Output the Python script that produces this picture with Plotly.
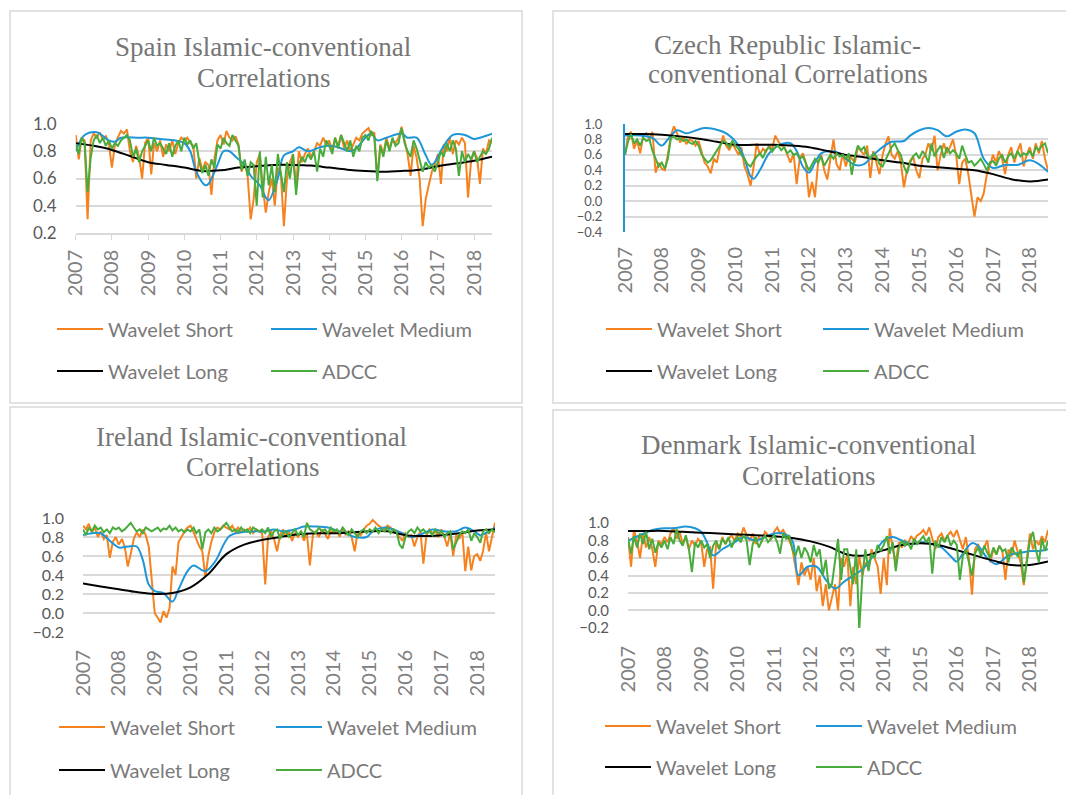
import pandas as pd
import plotly.graph_objects as go

W, H = 1066, 795

# ---------------- data ----------------
months = pd.date_range("2007-01-01", periods=139, freq="MS")
half_years = pd.date_range("2007-01-01", periods=24, freq="6MS")

series_names = ["Wavelet Short", "Wavelet Medium", "Wavelet Long", "ADCC"]

# Spain
spain_short = [
    0.92, 0.74, 0.90, 0.88, 0.30, 0.88, 0.93, 0.90, 0.94, 0.88, 0.91, 0.86,
    0.68, 0.85, 0.90, 0.95, 0.93, 0.96, 0.80, 0.72, 0.84, 0.76, 0.60, 0.86,
    0.90, 0.63, 0.86, 0.80, 0.88, 0.76, 0.85, 0.80, 0.88, 0.78, 0.86, 0.90,
    0.88, 0.90, 0.86, 0.84, 0.60, 0.75, 0.66, 0.72, 0.70, 0.48, 0.75, 0.88,
    0.92, 0.85, 0.95, 0.90, 0.88, 0.91, 0.85, 0.65, 0.72, 0.62, 0.30, 0.45,
    0.72, 0.78, 0.55, 0.35, 0.50, 0.60, 0.40, 0.68, 0.62, 0.25, 0.60, 0.72,
    0.78, 0.55, 0.80, 0.72, 0.78, 0.82, 0.76, 0.80, 0.86, 0.84, 0.90, 0.85,
    0.88, 0.80, 0.90, 0.84, 0.92, 0.82, 0.88, 0.80, 0.85, 0.90, 0.88, 0.93,
    0.95, 0.97, 0.92, 0.94, 0.60, 0.85, 0.78, 0.90, 0.82, 0.88, 0.86, 0.90,
    0.98, 0.88, 0.78, 0.62, 0.84, 0.75, 0.60, 0.25, 0.45, 0.55, 0.65, 0.70,
    0.78, 0.56, 0.85, 0.80, 0.90, 0.78, 0.88, 0.85, 0.90, 0.86, 0.46, 0.72,
    0.80, 0.75, 0.56, 0.82, 0.78, 0.88, 0.86,
]
spain_adcc = [
    0.85, 0.78, 0.90, 0.86, 0.50, 0.75, 0.88, 0.92, 0.86, 0.90, 0.84, 0.88,
    0.82, 0.86, 0.84, 0.88, 0.90, 0.92, 0.88, 0.76, 0.82, 0.72, 0.80, 0.84,
    0.88, 0.80, 0.90, 0.84, 0.86, 0.82, 0.78, 0.86, 0.76, 0.84, 0.88, 0.80,
    0.90, 0.85, 0.88, 0.82, 0.86, 0.72, 0.64, 0.70, 0.62, 0.74, 0.68, 0.85,
    0.82, 0.90, 0.86, 0.84, 0.92, 0.88, 0.84, 0.66, 0.74, 0.62, 0.72, 0.70,
    0.40, 0.80, 0.46, 0.76, 0.55, 0.70, 0.50, 0.78, 0.62, 0.50, 0.72, 0.60,
    0.78, 0.48, 0.70, 0.76, 0.72, 0.78, 0.74, 0.80, 0.65, 0.82, 0.76, 0.88,
    0.84, 0.78, 0.90, 0.82, 0.92, 0.86, 0.80, 0.88, 0.76, 0.84, 0.80, 0.90,
    0.92, 0.88, 0.95, 0.90, 0.58, 0.84, 0.76, 0.88, 0.80, 0.90, 0.84, 0.86,
    0.97, 0.86, 0.80, 0.76, 0.88, 0.82, 0.74, 0.65, 0.72, 0.68, 0.70, 0.65,
    0.72, 0.80, 0.76, 0.86, 0.80, 0.88, 0.82, 0.62, 0.80, 0.72, 0.78, 0.74,
    0.80, 0.72, 0.76, 0.80, 0.78, 0.82, 0.90,
]
spain_medium_dates = [
    "2007-01", "2007-04", "2007-08", "2007-12", "2008-02", "2008-04", "2008-10",
    "2009-01", "2009-05", "2009-10", "2010-01", "2010-03", "2010-05", "2010-08",
    "2010-09", "2010-12", "2011-02", "2011-04", "2011-06", "2011-09", "2011-11",
    "2012-02", "2012-04", "2012-05", "2012-08", "2012-10", "2013-01", "2013-03",
    "2013-06", "2013-10", "2014-01", "2014-04", "2014-08", "2014-10", "2015-01",
    "2015-03", "2015-05", "2015-08", "2016-01", "2016-03", "2016-06", "2016-09",
    "2016-11", "2017-03", "2017-06", "2017-10", "2018-01", "2018-03", "2018-07",
]
spain_medium = [
    0.80, 0.92, 0.94, 0.88, 0.87, 0.90, 0.90, 0.90, 0.89, 0.88, 0.86, 0.80,
    0.65, 0.55, 0.56, 0.70, 0.80, 0.80, 0.76, 0.70, 0.62, 0.55, 0.46, 0.44,
    0.60, 0.77, 0.80, 0.83, 0.80, 0.83, 0.84, 0.83, 0.80, 0.82, 0.90, 0.93,
    0.88, 0.90, 0.93, 0.90, 0.90, 0.77, 0.70, 0.84, 0.92, 0.92, 0.89, 0.90,
    0.93,
]
spain_long = [
    0.86, 0.84, 0.81, 0.765, 0.72, 0.70, 0.68, 0.655, 0.66, 0.68, 0.69, 0.70,
    0.70, 0.695, 0.68, 0.665, 0.655, 0.65, 0.655, 0.665, 0.69, 0.71, 0.73, 0.76,
]

# Czech Republic
czech_short = [
    0.60, 0.85, 0.90, 0.68, 0.78, 0.62, 0.85, 0.88, 0.80, 0.90, 0.37, 0.50,
    0.42, 0.40, 0.60, 0.85, 0.97, 0.88, 0.76, 0.84, 0.74, 0.80, 0.78, 0.72,
    0.78, 0.62, 0.50, 0.45, 0.36, 0.55, 0.50, 0.70, 0.85, 0.72, 0.66, 0.75,
    0.68, 0.60, 0.70, 0.45, 0.35, 0.20, 0.45, 0.75, 0.60, 0.68, 0.64, 0.72,
    0.68, 0.85, 0.78, 0.72, 0.70, 0.60, 0.50, 0.62, 0.22, 0.55, 0.62, 0.50,
    0.05, 0.25, 0.05, 0.50, 0.60, 0.40, 0.28, 0.55, 0.80, 0.48, 0.40, 0.62,
    0.45, 0.60, 0.55, 0.50, 0.70, 0.65, 0.60, 0.72, 0.30, 0.65, 0.50, 0.35,
    0.60, 0.75, 0.84, 0.60, 0.55, 0.65, 0.50, 0.18, 0.40, 0.52, 0.58, 0.40,
    0.30, 0.55, 0.60, 0.75, 0.65, 0.85, 0.40, 0.60, 0.75, 0.62, 0.70, 0.80,
    0.60, 0.22, 0.50, 0.55, 0.35, 0.10, -0.20, 0.05, 0.00, 0.10, 0.35, 0.45,
    0.60, 0.50, 0.65, 0.55, 0.35, 0.60, 0.70, 0.50, 0.65, 0.75, 0.45, 0.60,
    0.70, 0.55, 0.75, 0.62, 0.78, 0.55, 0.40,
]
czech_adcc = [
    0.60, 0.78, 0.87, 0.75, 0.80, 0.72, 0.82, 0.78, 0.80, 0.65, 0.55, 0.45,
    0.50, 0.42, 0.55, 0.82, 0.84, 0.80, 0.82, 0.78, 0.80, 0.76, 0.74, 0.78,
    0.72, 0.60, 0.55, 0.50, 0.53, 0.60, 0.66, 0.72, 0.78, 0.76, 0.70, 0.78,
    0.72, 0.68, 0.60, 0.55, 0.48, 0.45, 0.52, 0.58, 0.62, 0.56, 0.66, 0.70,
    0.64, 0.70, 0.72, 0.66, 0.70, 0.62, 0.66, 0.60, 0.62, 0.55, 0.58, 0.50,
    0.40, 0.48, 0.55, 0.50, 0.58, 0.46, 0.52, 0.60, 0.55, 0.62, 0.58, 0.60,
    0.55, 0.62, 0.34, 0.58, 0.72, 0.66, 0.70, 0.60, 0.55, 0.62, 0.58, 0.48,
    0.45, 0.55, 0.62, 0.70, 0.75, 0.66, 0.60, 0.45, 0.36, 0.50, 0.58, 0.62,
    0.55, 0.65, 0.60, 0.50, 0.75, 0.58, 0.66, 0.72, 0.56, 0.70, 0.62, 0.66,
    0.62, 0.55, 0.72, 0.60, 0.50, 0.52, 0.46, 0.50, 0.55, 0.48, 0.40, 0.50,
    0.52, 0.46, 0.55, 0.60, 0.50, 0.58, 0.62, 0.55, 0.65, 0.58, 0.62, 0.60,
    0.65, 0.58, 0.70, 0.66, 0.72, 0.75, 0.62,
]
czech_medium_dates = [
    "2007-01", "2007-06", "2007-10", "2008-01", "2008-03", "2008-06", "2008-09",
    "2009-01", "2009-03", "2009-09", "2009-12", "2010-02", "2010-04", "2010-06",
    "2010-07", "2010-09", "2010-12", "2011-03", "2011-07", "2011-09", "2011-11",
    "2012-01", "2012-03", "2012-05", "2012-08", "2012-11", "2013-01", "2013-04",
    "2013-07", "2013-10", "2014-01", "2014-04", "2014-08", "2014-10", "2015-01",
    "2015-04", "2015-07", "2015-10", "2016-01", "2016-04", "2016-07", "2016-10",
    "2017-01", "2017-05", "2017-09", "2018-01", "2018-04", "2018-07",
]
czech_medium = [
    0.85, 0.85, 0.82, 0.72, 0.80, 0.92, 0.88, 0.93, 0.95, 0.90, 0.82, 0.72,
    0.55, 0.32, 0.29, 0.40, 0.62, 0.72, 0.75, 0.65, 0.45, 0.37, 0.50, 0.62,
    0.65, 0.62, 0.55, 0.47, 0.48, 0.60, 0.70, 0.77, 0.78, 0.85, 0.92, 0.95,
    0.92, 0.84, 0.90, 0.93, 0.88, 0.55, 0.43, 0.47, 0.47, 0.53, 0.48, 0.38,
]
czech_long = [
    0.87, 0.87, 0.86, 0.84, 0.81, 0.77, 0.73, 0.73, 0.73, 0.72, 0.70, 0.65,
    0.60, 0.57, 0.53, 0.50, 0.46, 0.44, 0.42, 0.40, 0.35, 0.285, 0.255, 0.28,
]

# Ireland
ireland_short = [
    0.92, 0.88, 0.94, 0.85, 0.90, 0.80, 0.86, 0.78, 0.82, 0.58, 0.75, 0.80,
    0.72, 0.78, 0.70, 0.49, 0.62, 0.78, 0.85, 0.80, 0.88, 0.82, 0.70, 0.35,
    0.00, -0.05, -0.10, 0.02, -0.05, 0.05, 0.49, 0.40, 0.75, 0.80, 0.86, 0.90,
    0.92, 0.85, 0.78, 0.70, 0.65, 0.38, 0.60, 0.75, 0.85, 0.90, 0.88, 0.92,
    0.90, 0.88, 0.92, 0.86, 0.90, 0.85, 0.88, 0.86, 0.90, 0.84, 0.88, 0.86,
    0.84, 0.30, 0.80, 0.86, 0.78, 0.65, 0.82, 0.88, 0.80, 0.86, 0.76, 0.84,
    0.80, 0.86, 0.76, 0.84, 0.50, 0.82, 0.86, 0.80, 0.88, 0.84, 0.78, 0.86,
    0.84, 0.88, 0.80, 0.90, 0.82, 0.86, 0.80, 0.65, 0.86, 0.82, 0.88, 0.92,
    0.94, 0.98, 0.95, 0.92, 0.90, 0.88, 0.92, 0.90, 0.86, 0.84, 0.80, 0.76,
    0.84, 0.80, 0.82, 0.70, 0.80, 0.86, 0.52, 0.82, 0.88, 0.84, 0.86, 0.80,
    0.88, 0.80, 0.70, 0.84, 0.60, 0.82, 0.78, 0.86, 0.44, 0.70, 0.45, 0.60,
    0.62, 0.55, 0.65, 0.85, 0.65, 0.82, 0.95,
]
ireland_adcc = [
    0.88, 0.82, 0.90, 0.86, 0.92, 0.88, 0.90, 0.85, 0.88, 0.84, 0.90, 0.88,
    0.90, 0.86, 0.88, 0.92, 0.95, 0.90, 0.86, 0.88, 0.84, 0.90, 0.88, 0.86,
    0.88, 0.90, 0.86, 0.89, 0.88, 0.92, 0.87, 0.90, 0.86, 0.88, 0.85, 0.88,
    0.86, 0.90, 0.84, 0.88, 0.67, 0.85, 0.88, 0.84, 0.90, 0.86, 0.88, 0.92,
    0.95, 0.90, 0.86, 0.88, 0.85, 0.90, 0.86, 0.88, 0.84, 0.90, 0.88, 0.86,
    0.88, 0.84, 0.90, 0.80, 0.86, 0.88, 0.78, 0.84, 0.86, 0.80, 0.84, 0.88,
    0.82, 0.86, 0.80, 0.95, 0.88, 0.86, 0.84, 0.90, 0.86, 0.88, 0.84, 0.90,
    0.86, 0.88, 0.84, 0.90, 0.86, 0.82, 0.88, 0.84, 0.80, 0.86, 0.88, 0.84,
    0.88, 0.86, 0.90, 0.84, 0.88, 0.86, 0.90, 0.84, 0.88, 0.86, 0.72, 0.68,
    0.80, 0.86, 0.88, 0.84, 0.90, 0.86, 0.88, 0.84, 0.86, 0.82, 0.88, 0.84,
    0.86, 0.80, 0.84, 0.86, 0.67, 0.74, 0.82, 0.86, 0.84, 0.88, 0.76, 0.84,
    0.80, 0.74, 0.86, 0.88, 0.84, 0.88, 0.85,
]
ireland_medium_dates = [
    "2007-01", "2007-04", "2007-07", "2007-10", "2008-01", "2008-04", "2008-07",
    "2008-09", "2008-11", "2009-01", "2009-04", "2009-07", "2009-09", "2009-12",
    "2010-02", "2010-06", "2010-09", "2011-02", "2011-06", "2011-11", "2012-02",
    "2012-05", "2012-08", "2012-12", "2013-03", "2013-07", "2013-11", "2014-01",
    "2014-05", "2014-08", "2014-12", "2015-02", "2015-06", "2015-09", "2015-12",
    "2016-03", "2016-07", "2016-10", "2017-02", "2017-06", "2017-09", "2017-12",
    "2018-02", "2018-05", "2018-07",
]
ireland_medium = [
    0.82, 0.84, 0.84, 0.76, 0.69, 0.70, 0.70, 0.56, 0.30, 0.23, 0.21, 0.12,
    0.25, 0.44, 0.50, 0.44, 0.53, 0.81, 0.85, 0.86, 0.86, 0.88, 0.86, 0.88,
    0.91, 0.91, 0.90, 0.88, 0.84, 0.80, 0.80, 0.86, 0.90, 0.88, 0.84, 0.80,
    0.84, 0.88, 0.86, 0.86, 0.90, 0.86, 0.82, 0.86, 0.90,
]
ireland_long = [
    0.31, 0.28, 0.25, 0.22, 0.20, 0.21, 0.27, 0.41, 0.62, 0.72, 0.77, 0.80,
    0.83, 0.84, 0.84, 0.85, 0.86, 0.86, 0.82, 0.81, 0.82, 0.84, 0.87, 0.88,
]

# Denmark
denmark_short = [
    0.84, 0.50, 0.92, 0.80, 0.60, 0.88, 0.72, 0.84, 0.70, 0.50, 0.80, 0.76,
    0.84, 0.78, 0.88, 0.95, 0.82, 0.90, 0.76, 0.84, 0.70, 0.80, 0.74, 0.82,
    0.78, 0.50, 0.70, 0.72, 0.25, 0.78, 0.70, 0.84, 0.76, 0.82, 0.86, 0.80,
    0.88, 0.84, 0.95, 0.86, 0.80, 0.88, 0.76, 0.84, 0.80, 0.90, 0.86, 0.82,
    0.90, 0.95, 0.88, 0.92, 0.86, 0.80, 0.72, 0.50, 0.29, 0.55, 0.40, 0.50,
    0.35, 0.60, 0.22, 0.40, 0.05, 0.30, 0.00, 0.15, 0.30, 0.00, 0.60, 0.50,
    0.65, 0.05, 0.50, 0.30, 0.62, 0.40, 0.55, 0.48, 0.70, 0.60, 0.50, 0.19,
    0.60, 0.29, 0.94, 0.70, 0.55, 0.78, 0.72, 0.80, 0.76, 0.85, 0.80, 0.86,
    0.88, 0.92, 0.86, 0.95, 0.82, 0.70, 0.84, 0.88, 0.80, 0.86, 0.90, 0.84,
    0.92, 0.80, 0.70, 0.84, 0.60, 0.18, 0.70, 0.76, 0.65, 0.72, 0.80, 0.55,
    0.70, 0.64, 0.74, 0.68, 0.35, 0.70, 0.62, 0.80, 0.66, 0.55, 0.29, 0.60,
    0.88, 0.70, 0.80, 0.75, 0.85, 0.78, 0.92,
]
denmark_adcc = [
    0.82, 0.65, 0.85, 0.72, 0.88, 0.76, 0.90, 0.70, 0.82, 0.66, 0.78, 0.72,
    0.80, 0.70, 0.84, 0.76, 0.93, 0.80, 0.74, 0.86, 0.70, 0.44, 0.78, 0.72,
    0.80, 0.72, 0.76, 0.60, 0.74, 0.80, 0.70, 0.82, 0.76, 0.84, 0.72, 0.80,
    0.84, 0.78, 0.86, 0.80, 0.52, 0.76, 0.84, 0.72, 0.80, 0.86, 0.78, 0.82,
    0.86, 0.78, 0.65, 0.88, 0.82, 0.86, 0.70, 0.62, 0.74, 0.60, 0.72, 0.66,
    0.55, 0.75, 0.62, 0.70, 0.40, 0.58, 0.25, 0.30, 0.55, 0.82, 0.35, 0.70,
    0.70, 0.50, 0.30, 0.70, -0.22, 0.40, 0.70, 0.45, 0.65, 0.60, 0.75, 0.68,
    0.75, 0.85, 0.65, 0.78, 0.45, 0.72, 0.80, 0.74, 0.78, 0.70, 0.82, 0.76,
    0.80, 0.85, 0.78, 0.84, 0.42, 0.80, 0.72, 0.84, 0.78, 0.86, 0.74, 0.80,
    0.75, 0.35, 0.62, 0.70, 0.55, 0.40, 0.65, 0.72, 0.62, 0.74, 0.66, 0.60,
    0.72, 0.64, 0.74, 0.68, 0.70, 0.55, 0.72, 0.66, 0.62, 0.70, 0.32, 0.58,
    0.80, 0.90, 0.70, 0.55, 0.82, 0.68, 0.80,
]
denmark_medium_dates = [
    "2007-01", "2007-05", "2007-09", "2008-01", "2008-04", "2008-08", "2008-11",
    "2009-01", "2009-03", "2009-05", "2009-08", "2009-12", "2010-03", "2010-07",
    "2010-10", "2011-01", "2011-04", "2011-07", "2011-09", "2011-12", "2012-03",
    "2012-06", "2012-09", "2012-12", "2013-03", "2013-06", "2013-09", "2014-01",
    "2014-04", "2014-07", "2014-10", "2015-01", "2015-04", "2015-08", "2015-11",
    "2016-01", "2016-03", "2016-06", "2016-08", "2016-11", "2017-02", "2017-06",
    "2017-10", "2018-01", "2018-04", "2018-07",
]
denmark_medium = [
    0.80, 0.86, 0.92, 0.94, 0.94, 0.96, 0.94, 0.90, 0.78, 0.63, 0.70, 0.78,
    0.84, 0.80, 0.84, 0.88, 0.88, 0.80, 0.40, 0.50, 0.50, 0.35, 0.25, 0.33,
    0.40, 0.47, 0.60, 0.80, 0.84, 0.80, 0.76, 0.78, 0.77, 0.72, 0.62, 0.56,
    0.65, 0.77, 0.74, 0.60, 0.53, 0.63, 0.66, 0.68, 0.68, 0.70,
]
denmark_long = [
    0.91, 0.91, 0.91, 0.90, 0.89, 0.88, 0.87, 0.86, 0.85, 0.83, 0.79, 0.73,
    0.64, 0.63, 0.69, 0.75, 0.77, 0.75, 0.69, 0.63, 0.57, 0.52, 0.52, 0.56,
]

panels = [
    dict(title=["Spain Islamic-conventional", "Correlations"],
         short=spain_short, adcc=spain_adcc, med_x=spain_medium_dates, med=spain_medium,
         long=spain_long, yrange=[0.2, 1.0]),
    dict(title=["Czech Republic Islamic-", "conventional Correlations"],
         short=czech_short, adcc=czech_adcc, med_x=czech_medium_dates, med=czech_medium,
         long=czech_long, yrange=[-0.4, 1.0]),
    dict(title=["Ireland Islamic-conventional", "Correlations"],
         short=ireland_short, adcc=ireland_adcc, med_x=ireland_medium_dates, med=ireland_medium,
         long=ireland_long, yrange=[-0.2, 1.0]),
    dict(title=["Denmark Islamic-conventional", "Correlations"],
         short=denmark_short, adcc=denmark_adcc, med_x=denmark_medium_dates, med=denmark_medium,
         long=denmark_long, yrange=[-0.2, 1.0]),
]

# ---------------- layout geometry (pixels) ----------------
geo = [
    dict(box=(10, 11, 522, 403), plot=(75.7, 492.0, 124, 233), xstand=2, ticks=True, yfont=17,
         tcenters=[(263, 47), (263, 78)], leg_rows=(329, 371), leg_cols=(60, 274)),
    dict(box=(553, 11, 1070, 403), plot=(625, 1048, 124, 232), xstand=10, ticks=False, yfont=13,
         tcenters=[(787, 45), (788, 74)], leg_rows=(329, 371), leg_cols=(609, 826)),
    dict(box=(10, 407, 522, 800), plot=(83, 495, 518, 632), xstand=13, ticks=False, yfont=16,
         tcenters=[(251, 437), (252, 467)], leg_rows=(727, 770), leg_cols=(62, 279)),
    dict(box=(553, 410, 1070, 800), plot=(628, 1048, 523, 628), xstand=13, ticks=False, yfont=15,
         tcenters=[(808, 445), (808, 476)], leg_rows=(726, 767), leg_cols=(608, 819)),
]

colors = {"Wavelet Short": "#F6821F", "Wavelet Medium": "#1E96D8",
          "Wavelet Long": "#000000", "ADCC": "#48AC3C"}

def px(x):
    return x / W

def py(y):
    return 1 - y / H

fig = go.Figure()
layout = dict(width=W, height=H, margin=dict(l=0, r=0, t=0, b=0, autoexpand=False),
              paper_bgcolor="white", plot_bgcolor="white", showlegend=True)
shapes, annotations = [], []
legend_idx = 0

for i, (p, g) in enumerate(zip(panels, geo)):
    n = i + 1
    xa = "x" if n == 1 else f"x{n}"
    ya = "y" if n == 1 else f"y{n}"
    x0, x1, ytop, ybot = g["plot"]
    traces = [
        ("Wavelet Short", months, p["short"], "linear"),
        ("Wavelet Medium", pd.to_datetime(p["med_x"]), p["med"], "spline"),
        ("Wavelet Long", half_years, p["long"], "spline"),
        ("ADCC", months, p["adcc"], "linear"),
    ]
    for k, (name, xs, ys, shape) in enumerate(traces):
        legend_idx += 1
        lname = "legend" if legend_idx == 1 else f"legend{legend_idx}"
        fig.add_trace(go.Scatter(x=xs, y=ys, mode="lines", name=name,
                                 line=dict(color=colors[name], width=2, shape=shape),
                                 xaxis=xa, yaxis=ya, legend=lname, hoverinfo="skip"))
        row = g["leg_rows"][k // 2]
        col = g["leg_cols"][k % 2]
        layout[lname] = dict(x=px(col - 8), y=py(row), xanchor="left", yanchor="middle",
                             orientation="h", bgcolor="rgba(0,0,0,0)", borderwidth=0,
                             itemwidth=46,
                             font=dict(family="Lato", size=20, color="#7a7a7a"))
    xkey = "xaxis" if n == 1 else f"xaxis{n}"
    ykey = "yaxis" if n == 1 else f"yaxis{n}"
    layout[xkey] = dict(
        type="date", domain=[px(x0), px(x1)], anchor=ya, automargin=False,
        range=["2007-01-01", "2018-07-01"], tick0="2007-01-01", dtick="M12",
        tickformat="%Y", tickangle=-90, showgrid=False, zeroline=False,
        showline=g["ticks"], linecolor="#d9d9d9", linewidth=1.5,
        ticks="outside" if g["ticks"] else "", ticklen=5, tickcolor="#d9d9d9",
        ticklabelstandoff=g["xstand"],
        tickfont=dict(family="Lato", size=20, color="#808080"),
    )
    lo, hi = p["yrange"]
    ycfg = dict(
        domain=[py(ybot), py(ytop)], anchor=xa, automargin=False,
        range=[lo - 0.0005, hi + 0.0005],
        tick0=0, dtick=0.2, tickformat=".1f", showgrid=True, gridcolor="#d9d9d9",
        gridwidth=1.5, zeroline=False, ticks="", ticklabelstandoff=18,
        tickfont=dict(family="Lato", size=g["yfont"], color="#595959"),
        showline=False,
    )
    if n == 2:
        ycfg.update(showline=True, linecolor="#1E96D8", linewidth=2)
    layout[ykey] = ycfg

    bx0, by0, bx1, by1 = g["box"]
    shapes.append(dict(type="rect", xref="paper", yref="paper",
                       x0=px(bx0), x1=px(bx1), y0=py(by1), y1=py(by0),
                       line=dict(color="#d9d9d9", width=1.5), layer="below"))
    for text, (cx, cy) in zip(p["title"], g["tcenters"]):
        annotations.append(dict(text=text, x=px(cx), y=py(cy), xref="paper", yref="paper",
                                xanchor="center", yanchor="middle", showarrow=False,
                                font=dict(family="Liberation Serif", size=27, color="#767676")))

layout["shapes"] = shapes
layout["annotations"] = annotations
fig.update_layout(**layout)
fig.write_html(
    "out.html",
    config={"displayModeBar": False},
    post_script="document.body.style.margin='0';document.documentElement.style.overflow='hidden';",
)
